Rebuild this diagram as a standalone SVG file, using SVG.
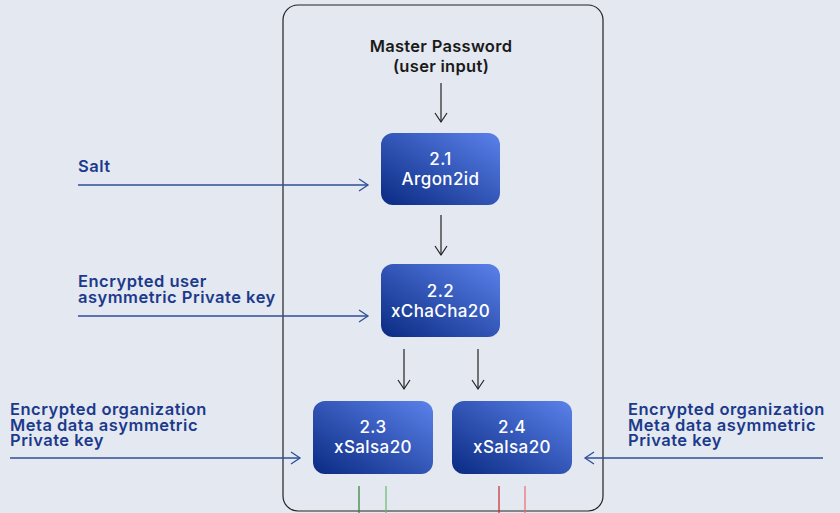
<svg xmlns="http://www.w3.org/2000/svg" width="840" height="513" viewBox="0 0 840 513">
<defs>
<style>
.lbl{font-family:Inter,"Open Sans","Liberation Sans",sans-serif;font-weight:600;font-size:16.5px;letter-spacing:0.5px;fill:#1c3a8c}
.ttl{font-family:Inter,"Open Sans","Liberation Sans",sans-serif;font-weight:600;font-size:16.5px;letter-spacing:0.3px;fill:#1a1a1a;text-anchor:middle}
.bt{font-family:Inter,"Open Sans","Liberation Sans",sans-serif;font-weight:500;font-size:17px;letter-spacing:0.4px;fill:#ffffff;text-anchor:middle}
.box{fill:url(#g)}
.blk{stroke:#222;stroke-width:1.2;fill:none}
.blu{stroke:#2f4f9a;stroke-width:1.3;fill:none}
</style>
<linearGradient id="g" x1="0" y1="1" x2="1" y2="0">
<stop offset="0" stop-color="#0a2a82"/>
<stop offset="1" stop-color="#5b82eb"/>
</linearGradient>
<marker id="ak" markerWidth="14" markerHeight="14" refX="12" refY="7" orient="auto" markerUnits="userSpaceOnUse">
<path d="M3,1 L12,7 L3,13" fill="none" stroke="#222" stroke-width="1.2"/>
</marker>
<marker id="ab" markerWidth="14" markerHeight="14" refX="12" refY="7" orient="auto" markerUnits="userSpaceOnUse">
<path d="M3,1 L12,7 L3,13" fill="none" stroke="#2f4f9a" stroke-width="1.3"/>
</marker>
</defs>
<rect width="840" height="513" fill="#e4e8f0"/>
<rect x="283" y="5" width="320" height="506" rx="15" fill="none" stroke="#222" stroke-width="1.2"/>

<g id="title">
<text class="ttl" x="441" y="52">Master Password</text>
<text class="ttl" x="441" y="72">(user input)</text>
</g>

<g id="n21">
<rect class="box" x="381" y="133" width="119" height="72" rx="12"/>
<text class="bt" x="440.5" y="165">2.1</text>
<text class="bt" x="440.5" y="185">Argon2id</text>
</g>
<g id="n22">
<rect class="box" x="381" y="264" width="119" height="73" rx="12"/>
<text class="bt" x="440.5" y="297">2.2</text>
<text class="bt" x="440.5" y="317">xChaCha20</text>
</g>
<g id="n23">
<rect class="box" x="313" y="401" width="120" height="73" rx="12"/>
<text class="bt" x="373" y="433">2.3</text>
<text class="bt" x="373" y="453">xSalsa20</text>
</g>
<g id="n24">
<rect class="box" x="452" y="401" width="120" height="73" rx="12"/>
<text class="bt" x="512" y="433">2.4</text>
<text class="bt" x="512" y="453">xSalsa20</text>
</g>

<g id="labels">
<text class="lbl" x="78" y="172">Salt</text>
<text class="lbl" x="78" y="287">Encrypted user</text>
<text class="lbl" x="78" y="303">asymmetric Private key</text>
<text class="lbl" x="10" y="415">Encrypted organization</text>
<text class="lbl" x="10" y="431">Meta data asymmetric</text>
<text class="lbl" x="10" y="446">Private key</text>
<text class="lbl" x="628" y="415">Encrypted organization</text>
<text class="lbl" x="628" y="431">Meta data asymmetric</text>
<text class="lbl" x="628" y="446">Private key</text>
</g>

<g id="connectors">
<line class="blk" x1="441" y1="83" x2="441" y2="122" marker-end="url(#ak)"/>
<line class="blk" x1="441" y1="215" x2="441" y2="255" marker-end="url(#ak)"/>
<line class="blk" x1="404" y1="349" x2="404" y2="389" marker-end="url(#ak)"/>
<line class="blk" x1="478" y1="349" x2="478" y2="389" marker-end="url(#ak)"/>
<line class="blu" x1="78" y1="185" x2="368" y2="185" marker-end="url(#ab)"/>
<line class="blu" x1="78" y1="316" x2="368" y2="316" marker-end="url(#ab)"/>
<line class="blu" x1="10" y1="458" x2="300" y2="458" marker-end="url(#ab)"/>
<line class="blu" x1="823" y1="458" x2="585" y2="458" marker-end="url(#ab)"/>
<line x1="359" y1="486" x2="359" y2="513" stroke="#2e7d32" stroke-width="1.2"/>
<line x1="386" y1="486" x2="386" y2="513" stroke="#66bb6a" stroke-width="1.2"/>
<line x1="499" y1="486" x2="499" y2="513" stroke="#c62828" stroke-width="1.2"/>
<line x1="525" y1="486" x2="525" y2="513" stroke="#ef6b6b" stroke-width="1.2"/>
</g>
</svg>
